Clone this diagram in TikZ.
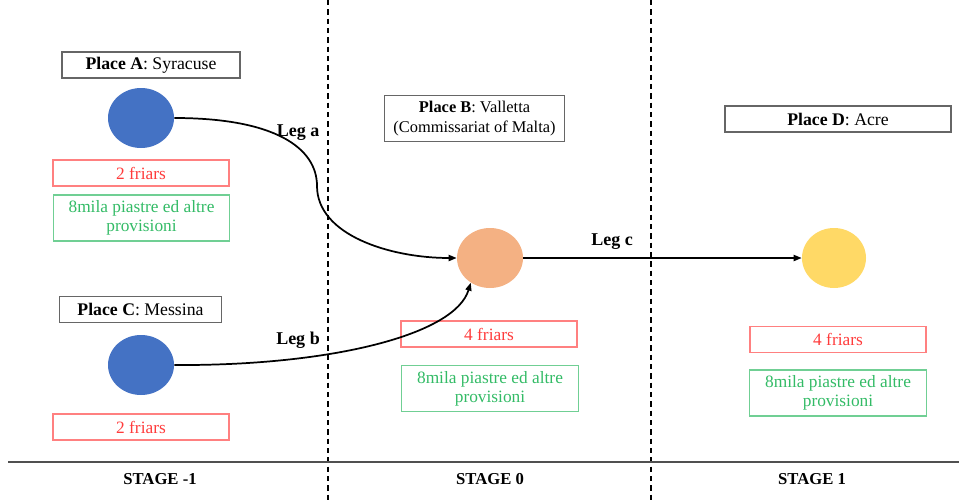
\documentclass[tikz,border=0pt]{standalone}
\usepackage{fontspec}
\setmainfont{Liberation Serif}
\usetikzlibrary{shapes.geometric,arrows.meta}
\definecolor{placeblue}{HTML}{4472C4}
\definecolor{maltaorange}{HTML}{F4B183}
\definecolor{acreyellow}{HTML}{FFD966}
\definecolor{friarred}{HTML}{FF3B3B}
\definecolor{goodsgreen}{HTML}{33BB66}
\definecolor{rulegray}{HTML}{505050}
\begin{document}
\begin{tikzpicture}[x=0.75pt,y=-0.75pt,
  spot/.style={ellipse,inner sep=0pt,minimum width=49.5pt,minimum height=45pt},
  placebox/.style={draw=black!60,line width=0.8pt,minimum height=19.5pt,inner sep=1pt,
    align=center,font=\fontsize{13.3}{15.5}\selectfont},
  friarbox/.style={draw=friarred!65,text=friarred,line width=0.9pt,minimum width=132pt,
    minimum height=19.5pt,inner sep=1pt,font=\fontsize{13}{15}\selectfont},
  goodsbox/.style={draw=goodsgreen!70,text=goodsgreen,line width=0.9pt,minimum width=132.5pt,
    minimum height=34.5pt,inner sep=1pt,align=center,font=\fontsize{13}{14.5}\selectfont},
  leglabel/.style={font=\bfseries\fontsize{13.5}{15}\selectfont},
  stagelabel/.style={font=\bfseries\fontsize{12.5}{14}\selectfont},
  leg/.style={line width=1.3pt,-{Triangle[length=6pt,width=4.5pt]}},
  divider/.style={line width=0.8pt,dash pattern=on 4pt off 3pt}]
\useasboundingbox (0,0) rectangle (959,503);

% stage dividers and base rule
\coordinate (d1top) at (328,0);
\coordinate (d1bot) at (328,503);
\coordinate (d2top) at (651,0);
\coordinate (d2bot) at (651,503);
\coordinate (ruleL) at (8,462);
\coordinate (ruleR) at (959,462);
\draw[divider] (d1top) -- (d1bot);
\draw[divider] (d2top) -- (d2bot);
\draw[rulegray,line width=1.8pt] (ruleL) -- (ruleR);

\node[stagelabel] (s1) at (160,479) {STAGE -1};
\node[stagelabel] (s2) at (490,479) {STAGE 0};
\node[stagelabel] (s3) at (812,479) {STAGE 1};

% Place A
\node[placebox,minimum width=133.5pt] (labA) at (151,65) {\textbf{Place A}: Syracuse};
\node[spot,fill=placeblue] (A) at (141,118) {};
\node[friarbox] (frA) at (141,173) {2 friars};
\node[goodsbox] (gdA) at (141.5,218) {8mila piastre ed altre\\provisioni};

% Place C
\node[placebox,minimum width=122pt] (labC) at (140.5,309.5) {\textbf{Place C}: Messina};
\node[spot,fill=placeblue] (C) at (141,365) {};
\node[friarbox] (frC) at (141,427) {2 friars};

% Place B
\node[placebox,minimum width=135.5pt,minimum height=35pt,
  font=\fontsize{12.3}{15.5}\selectfont] (labB) at (474.5,118.5)
  {\textbf{Place B}: Valletta\\(Commissariat of Malta)};
\node[spot,fill=maltaorange] (B) at (490,258) {};
\node[friarbox] (frB) at (489,334) {4 friars};
\node[goodsbox] (gdB) at (490,388.5) {8mila piastre ed altre\\provisioni};

% Place D
\node[placebox,minimum width=169.5pt] (labD) at (838,119) {\textbf{Place D}: Acre};
\node[spot,fill=acreyellow,minimum width=48pt] (D) at (834,258) {};
\node[friarbox] (frD) at (838,339.5) {4 friars};
\node[goodsbox] (gdD) at (838,393) {8mila piastre ed altre\\provisioni};

% legs of the journey
\draw[leg] (A.east) .. controls (275,118) and (317,148) .. (317,186)
  .. controls (317,235) and (390,258) .. (B.west);
\draw[leg] (C.east) .. controls (330,366) and (455,335) .. (B.232);
\draw[leg] (B.east) -- (D.west);

\node[leglabel] (la) at (298,133) {Leg a};
\node[leglabel] (lb) at (298,340) {Leg b};
\node[leglabel] (lc) at (612,242) {Leg c};
\end{tikzpicture}
\end{document}
